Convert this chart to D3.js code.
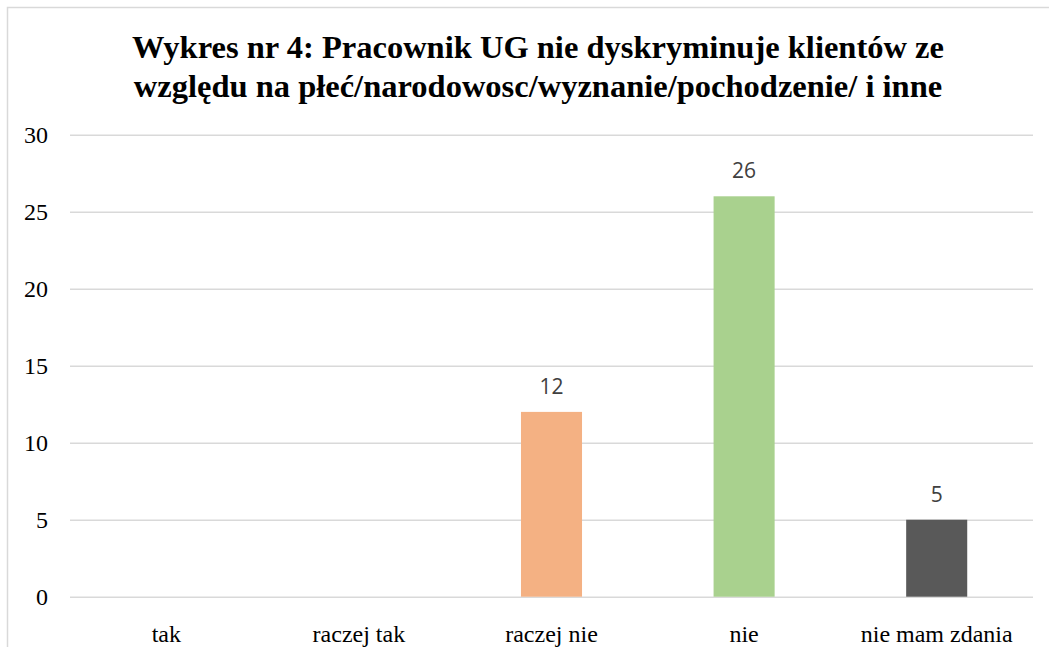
<!DOCTYPE html>
<html>
<head>
<meta charset="utf-8">
<script src="https://cdn.jsdelivr.net/npm/d3@7"></script>
<style>
  body { margin: 0; background: #fff; }
</style>
</head>
<body>
<script>
// chart data
var titleLines = [
    'Wykres nr 4: Pracownik UG nie dyskryminuje klientów ze',
    'względu na płeć/narodowosc/wyznanie/pochodzenie/ i inne'
]
var categories = ['tak', 'raczej tak', 'raczej nie', 'nie', 'nie mam zdania']
var counts = [0, 0, 12, 26, 5]
var barColors = ['#5b9bd5', '#ed7d31', '#f4b183', '#a9d18e', '#595959']
var yTicks = [0, 5, 10, 15, 20, 25, 30]

var width = 1049
var height = 647

var svg = d3.select('body')
            .append('svg')
                .attr('width', width)
                .attr('height', height)

// outer chart border
svg.append('rect')
    .attr('x', 7.5)
    .attr('y', 7.5)
    .attr('width', 1060)
    .attr('height', 680)
    .attr('fill', '#fff')
    .attr('stroke', '#d9d9d9')
    .attr('stroke-width', 1.5)

var plot = { left: 70, right: 1033, top: 134.7, bottom: 596.7 }

var x = d3.scaleBand()
            .domain(categories)
            .range([plot.left, plot.right])
            .paddingInner(0.683)
            .paddingOuter(0.3415)

var y = d3.scaleLinear()
            .domain([0, 30])
            .range([plot.bottom, plot.top])

// title
svg.append('g')
    .selectAll('text')
    .data(titleLines)
    .enter()
        .append('text')
            .attr('x', 538)
            .attr('y', (d, i) => 58 + i * 39)
            .attr('text-anchor', 'middle')
            .style('font-family', '"Liberation Serif", "Times New Roman", serif')
            .style('font-weight', 'bold')
            .style('font-size', '32.5px')
            .style('fill', '#000')
            .text(d => d)

// gridlines
var yAxis = d3.axisLeft(y)
                .tickValues(yTicks)
                .tickSize(-(plot.right - plot.left))
                .tickPadding(22)
                .tickFormat(d3.format('d'))

var gy = svg.append('g')
            .attr('transform', 'translate(' + plot.left + ',0)')
            .call(yAxis)
gy.select('.domain').remove()
gy.selectAll('line').attr('stroke', '#d9d9d9').attr('stroke-width', 1.5)
gy.selectAll('text')
    .style('font-family', '"Liberation Serif", "Times New Roman", serif')
    .style('font-size', '24px')
    .style('fill', '#000')

// category axis
var xAxis = d3.axisBottom(x).tickSize(0).tickPadding(28)
var gx = svg.append('g')
            .attr('transform', 'translate(0,' + plot.bottom + ')')
            .call(xAxis)
gx.select('.domain').remove()
gx.selectAll('text')
    .style('font-family', '"Liberation Serif", "Times New Roman", serif')
    .style('font-size', '24px')
    .style('fill', '#000')

// bars
svg.append('g')
    .selectAll('rect')
    .data(categories)
    .enter()
        .append('rect')
            .attr('x', d => x(d))
            .attr('y', (d, i) => y(counts[i]))
            .attr('width', x.bandwidth())
            .attr('height', (d, i) => y(0) - y(counts[i]))
            .attr('fill', (d, i) => barColors[i])

// data labels (only non-zero bars)
svg.append('g')
    .selectAll('text')
    .data(categories.filter((d, i) => counts[i] > 0))
    .enter()
        .append('text')
            .attr('x', d => x(d) + x.bandwidth() / 2)
            .attr('y', d => y(counts[categories.indexOf(d)]) - 18)
            .attr('text-anchor', 'middle')
            .style('font-family', '"Open Sans", "Liberation Sans", sans-serif')
            .style('font-size', '21px')
            .style('fill', '#404040')
            .text(d => counts[categories.indexOf(d)])
</script>
</body>
</html>
